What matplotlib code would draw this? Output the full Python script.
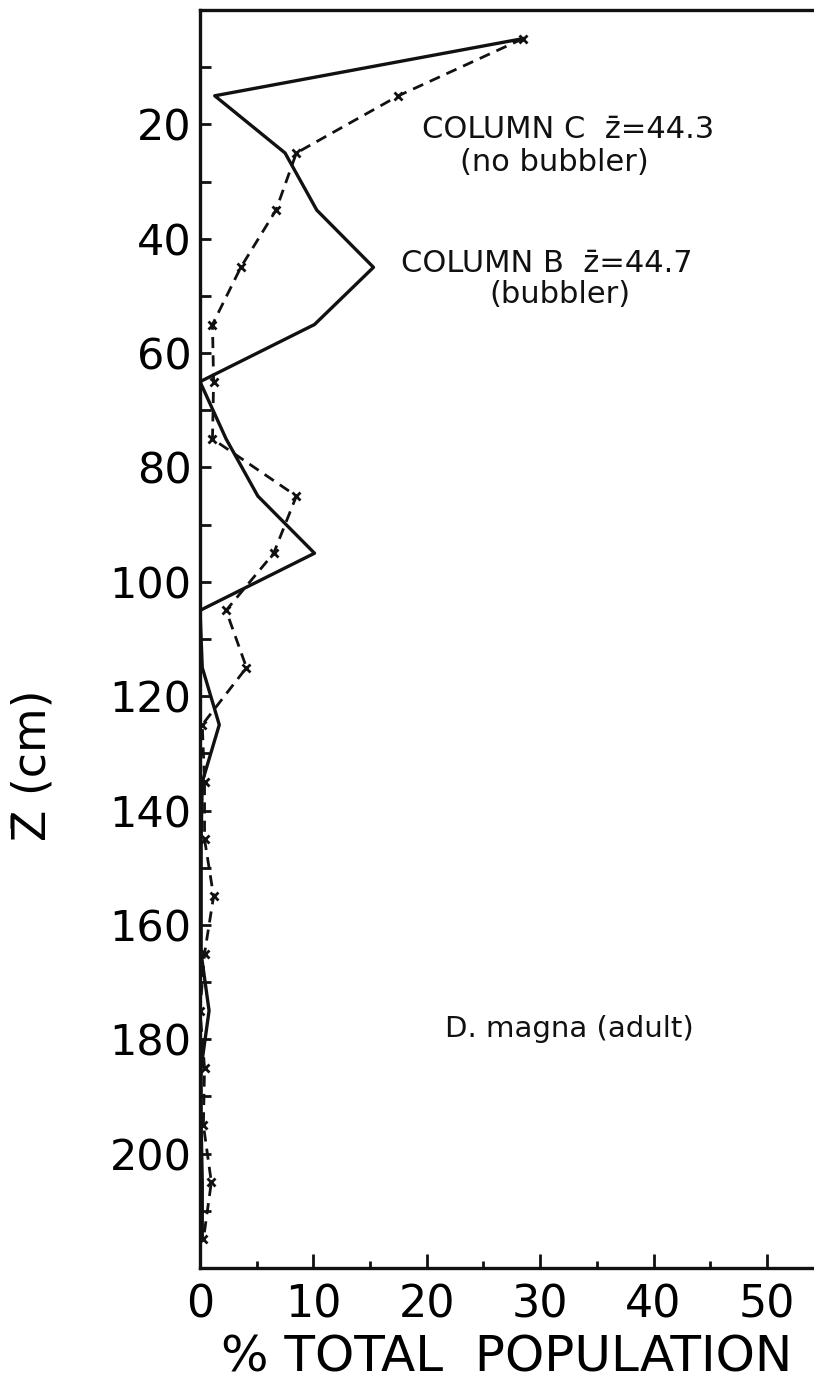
import matplotlib
matplotlib.use("Agg")
import matplotlib.pyplot as plt
from matplotlib.ticker import MultipleLocator

# depth midpoints (cm) and % of total population in each 10-cm layer
depth = [5, 15, 25, 35, 45, 55, 65, 75, 85, 95, 105,
         115, 125, 135, 145, 155, 165, 175, 185, 195, 205, 215]
col_b = [28.5, 1.3, 7.5, 10.3, 15.3, 10.1, 0.0, 2.3, 5.1, 10.1, 0.0,
         0.2, 1.7, 0.2, 0.1, 0.1, 0.1, 0.8, 0.1, 0.1, 0.2, 0.2]     # bubbler
col_c = [28.5, 17.5, 8.5, 6.7, 3.6, 1.1, 1.2, 1.1, 8.5, 6.5, 2.3,
         4.1, 0.2, 0.4, 0.4, 1.2, 0.4, 0.0, 0.4, 0.3, 1.0, 0.3]     # no bubbler

INK = "#111111"
plt.rcParams.update({"font.family": "DejaVu Sans", "text.color": INK})

fig = plt.figure(figsize=(8.14, 13.89), dpi=100)
ax = fig.add_axes([0.2457, 0.0871, 0.7543, 0.9057])

ax.plot(col_b, depth, color=INK, lw=2.4, zorder=3)
ax.plot(col_c, depth, color=INK, lw=2.0, ls=(0, (4, 2.6)),
        marker="x", ms=6, mew=2.0, zorder=3)

ax.set_xlim(0, 54.15)
ax.set_ylim(220, 0)

ax.set_xticks([0, 10, 20, 30, 40, 50])
ax.xaxis.set_minor_locator(MultipleLocator(5))
ax.set_yticks(range(20, 201, 20))
ax.yaxis.set_minor_locator(MultipleLocator(10))

ax.tick_params(axis="both", which="both", direction="in", color=INK, width=2)
ax.tick_params(axis="y", which="both", length=8, pad=6, labelsize=31)
ax.tick_params(axis="x", which="major", length=10, pad=11, labelsize=32)
ax.tick_params(axis="x", which="minor", length=5)

for s in ("left", "bottom", "top"):
    ax.spines[s].set_linewidth(2.4)
    ax.spines[s].set_color(INK)
ax.spines["right"].set_visible(False)

ax.set_xlabel("% TOTAL  POPULATION", fontsize=36, labelpad=5)
ax.set_ylabel("Z\u0304 (cm)", fontsize=33)
ax.yaxis.set_label_coords(-0.235, 0.40)

ax.text(19.6, 20.9, "COLUMN C  z\u0304=44.3", fontsize=22, va="center")
ax.text(22.9, 26.6, "(no bubbler)", fontsize=22, va="center")
ax.text(17.7, 44.3, "COLUMN B  z\u0304=44.7", fontsize=22, va="center")
ax.text(25.5, 49.7, "(bubbler)", fontsize=22, va="center")
ax.text(21.6, 178.2, "D. magna (adult)", fontsize=21, va="center")

fig.savefig("out.png", dpi=100, facecolor="white")
